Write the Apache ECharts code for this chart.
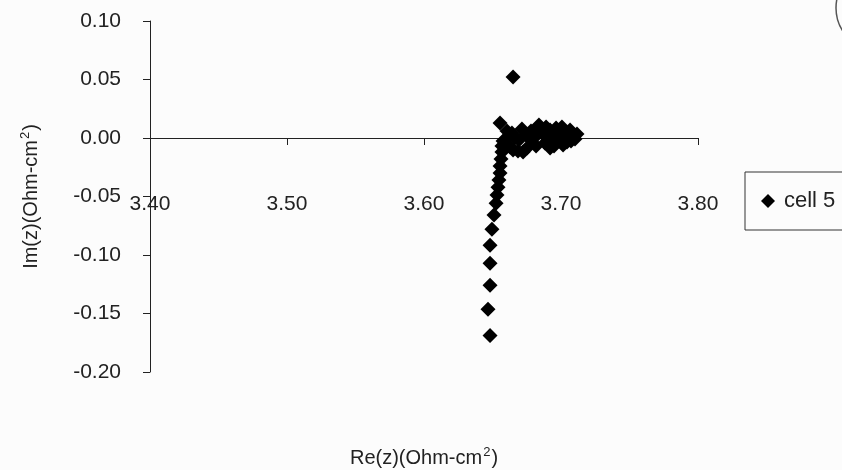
<!DOCTYPE html>
<html>
<head>
<meta charset="utf-8">
<title>cell 5 impedance</title>
<script src="https://cdn.jsdelivr.net/npm/echarts@6/dist/echarts.min.js"></script>
<style>
  html, body { margin: 0; padding: 0; background: #fcfcfc; }
  #chart { width: 842px; height: 470px; }
</style>
</head>
<body>
<div id="chart"></div>
<script>
// axis ticks
var xTicks = [3.40, 3.50, 3.60, 3.70, 3.80];
var yTicks = [-0.20, -0.15, -0.10, -0.05, 0.00, 0.05, 0.10];

var reValues = [
  3.6482, 3.6467, 3.6482, 3.6482, 3.6482, 3.6496, 3.6511, 3.6526, 3.6533,
  3.6540, 3.6547, 3.6555, 3.6555, 3.6562, 3.6569, 3.6569, 3.6577,
  3.6555, 3.6650,
  3.6606, 3.6715, 3.6781, 3.6839, 3.6920, 3.7007, 3.7066, 3.7117,
  3.6628, 3.6686, 3.6752, 3.6818, 3.6883, 3.6949, 3.7015, 3.7073,
  3.6664, 3.6774, 3.6883, 3.6978, 3.7102,
  3.6642, 3.6693, 3.6745, 3.6810, 3.6861, 3.6934, 3.6978, 3.7036, 3.7088,
  3.6723, 3.6650, 3.6920, 3.7044, 3.6591, 3.6818, 3.6891, 3.6964
];
var imValues = [
  -0.1687, -0.1464, -0.1259, -0.1070, -0.0916, -0.0779, -0.0659, -0.0557, -0.0488,
  -0.0420, -0.0360, -0.0300, -0.0240, -0.0180, -0.0120, -0.0068, -0.0026,
  0.0128, 0.0522,
  0.0060, 0.0077, 0.0060, 0.0111, 0.0068, 0.0094, 0.0068, 0.0034,
  -0.0077, -0.0111, -0.0086, -0.0068, -0.0043, -0.0068, -0.0060, -0.0026,
  0.0000, -0.0009, 0.0017, 0.0009, -0.0009,
  0.0043, -0.0017, 0.0026, 0.0009, 0.0051, -0.0009, 0.0060, 0.0017, 0.0026,
  -0.0120, -0.0103, -0.0086, -0.0034, -0.0017, 0.0077, 0.0094, 0.0086
];

var seriesName = 'cell 5';
var xTitle = 'Re(z)(Ohm-cm{sup|2})';
var yTitle = 'Im(z)(Ohm-cm{sup|2})';

var FONT = 'Liberation Sans, Arial, sans-serif';
var INK = '#222';

function getPoints() {
  var pts = [];
  for (var i = 0; i < reValues.length; i++) {
    pts.push([reValues[i], imValues[i]]);
  }
  return pts;
}

// title style with a raised small "2"
function titleStyle() {
  return {
    fontFamily: FONT,
    fontSize: 20,
    color: INK,
    rich: {
      sup: {
        fontFamily: FONT,
        fontSize: 13,
        color: INK,
        padding: [0, 1, 12, 1]
      }
    }
  };
}

var xStep = xTicks[1] - xTicks[0];
var yStep = yTicks[1] - yTicks[0];

var option = {
  backgroundColor: '#fcfcfc',
  animation: false,
  grid: {
    left: 150,
    top: 21,
    right: 144,
    bottom: 98,
    outerBoundsMode: 'none'
  },
  legend: {
    data: [seriesName],
    left: 745,
    top: 172,
    icon: 'diamond',
    itemWidth: 14,
    itemHeight: 14,
    padding: [18, 40, 18, 16],
    borderColor: '#333',
    borderWidth: 1,
    textStyle: {
      fontFamily: FONT,
      fontSize: 22,
      color: INK,
      padding: [0, 0, 0, 4]
    }
  },
  xAxis: {
    type: 'value',
    min: xTicks[0],
    max: xTicks[xTicks.length - 1],
    interval: xStep,
    name: xTitle,
    nameLocation: 'middle',
    nameGap: 74,
    nameTextStyle: titleStyle(),
    axisLine: { onZero: true, lineStyle: { color: '#222', width: 1 } },
    axisTick: { show: true, inside: false, length: 7, lineStyle: { color: '#222' } },
    axisLabel: {
      // labels sit near the -0.05 level, well below the zero line
      margin: -178,
      fontFamily: FONT,
      fontSize: 21,
      color: INK,
      formatter: function (v) { return v.toFixed(2); }
    },
    splitLine: { show: false }
  },
  yAxis: {
    type: 'value',
    min: yTicks[0],
    max: yTicks[yTicks.length - 1],
    interval: yStep,
    name: yTitle,
    nameLocation: 'middle',
    nameGap: 106,
    nameRotate: 90,
    nameTextStyle: titleStyle(),
    axisLine: { show: true, onZero: false, lineStyle: { color: '#222', width: 1 } },
    axisTick: { show: true, inside: false, length: 7, lineStyle: { color: '#222' } },
    axisLabel: {
      margin: 29,
      fontFamily: FONT,
      fontSize: 21,
      color: INK,
      formatter: function (v) { return v.toFixed(2); }
    },
    splitLine: { show: false }
  },
  series: [{
    name: seriesName,
    type: 'scatter',
    symbol: 'diamond',
    symbolSize: 15,
    itemStyle: { color: '#000', opacity: 1 },
    data: getPoints()
  }],
  graphic: [{
    // edge of a circled mark in the top right corner of the scan
    type: 'circle',
    shape: { cx: 878, cy: 8, r: 42 },
    style: { fill: 'none', stroke: '#555', lineWidth: 1.5 },
    silent: true
  }]
};

var chart = echarts.init(document.getElementById('chart'));
chart.setOption(option);
</script>
</body>
</html>
